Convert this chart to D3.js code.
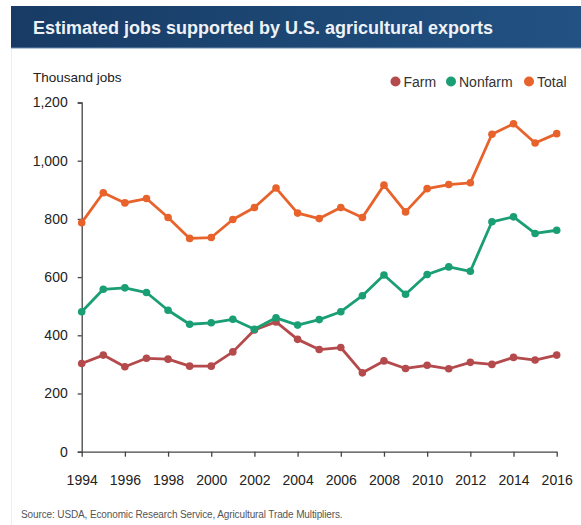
<!DOCTYPE html>
<html>
<head>
<meta charset="utf-8">
<script src="https://cdn.jsdelivr.net/npm/d3@7"></script>
<style>
  body { margin: 0; background: #fff; }
  svg { display: block; font-family: "Liberation Sans", Arial, sans-serif; }
</style>
</head>
<body>
<div class="chart"></div>
<script>
// years on the x axis
const years = d3.range(1994, 2017);
// thousand jobs
const farm = [303, 332, 292, 321, 318, 294, 294, 343, 418, 446, 386, 351, 358, 271, 312, 286, 297, 285, 307, 300, 324, 315, 332];
const nonfarm = [481, 558, 563, 547, 486, 438, 443, 455, 421, 460, 435, 454, 481, 536, 607, 541, 609, 635, 620, 790, 807, 750, 761];
const total = [787, 890, 855, 870, 805, 733, 736, 798, 839, 906, 820, 801, 839, 805, 916, 824, 904, 918, 924, 1091, 1127, 1061, 1093];
const seriesNames = ['Farm', 'Nonfarm', 'Total'];
const seriesColors = ['#b44a4c', '#1a9e74', '#e8632b'];
const yTicks = [0, 200, 400, 600, 800, 1000, 1200];
const xTicks = d3.range(1994, 2017, 2);

const width = 581;
const height = 525;
const svg = d3.select('.chart')
  .append('svg')
  .attr('width', width)
  .attr('height', height);

// faint frame on the left
svg.append('line')
  .attr('x1', 11.5).attr('x2', 11.5)
  .attr('y1', 6).attr('y2', height)
  .attr('stroke', '#eeeeee');

// title band
const grad = svg.append('defs').append('linearGradient')
  .attr('id', 'band').attr('x1', '0%').attr('x2', '100%');
grad.append('stop').attr('offset', '0%').attr('stop-color', '#173b64');
grad.append('stop').attr('offset', '100%').attr('stop-color', '#225283');
svg.append('rect')
  .attr('x', 11).attr('y', 6)
  .attr('width', width - 11).attr('height', 42)
  .attr('fill', 'url(#band)');
svg.append('line')
  .attr('x1', 11).attr('x2', width)
  .attr('y1', 48).attr('y2', 48)
  .attr('stroke', '#6f8fb2').attr('stroke-width', 1);
svg.append('text')
  .text('Estimated jobs supported by U.S. agricultural exports')
  .attr('x', 33).attr('y', 34)
  .attr('font-size', 18)
  .attr('font-weight', 'bold')
  .attr('fill', '#eef2f7');

const x = d3.scaleLinear().domain([1994, 2016]).range([81.7, 556.7]);
const y = d3.scaleLinear().domain([0, 1200]).range([451.7, 102.5]);

// y axis
const yAxis = svg.append('g')
  .attr('transform', 'translate(81.7,0)')
  .call(d3.axisLeft(y).tickValues(yTicks).tickSize(4).tickPadding(10).tickFormat(d3.format(',')));
yAxis.select('.domain').attr('stroke', '#444').attr('stroke-width', 1.3);
yAxis.selectAll('.tick line').attr('stroke', '#444').attr('stroke-width', 1.3);
yAxis.selectAll('.tick text')
  .attr('font-size', 14).attr('fill', '#222')
  .attr('font-family', '"Liberation Sans", Arial, sans-serif')
  .attr('x', -14);

// x axis
const xAxis = svg.append('g')
  .attr('transform', 'translate(0,451.7)')
  .call(d3.axisBottom(x).tickValues(xTicks).tickSize(5).tickSizeOuter(0).tickFormat(d3.format('d')));
xAxis.select('.domain').attr('stroke', '#444').attr('stroke-width', 1.3);
xAxis.selectAll('.tick line').attr('stroke', '#444').attr('stroke-width', 1.3);
xAxis.selectAll('.tick text')
  .attr('font-size', 14).attr('fill', '#222')
  .attr('font-family', '"Liberation Sans", Arial, sans-serif')
  .attr('dy', 0).attr('y', 33.5);

svg.append('text')
  .text('Thousand jobs')
  .attr('x', 33).attr('y', 82)
  .attr('font-size', 13.5)
  .attr('fill', '#222');

const series = [farm, nonfarm, total];
const line = d3.line()
  .x((d, i) => x(years[i]))
  .y(d => y(d));

series.forEach((s, k) => {
  svg.append('path')
    .datum(s)
    .attr('d', line)
    .attr('fill', 'none')
    .attr('stroke', seriesColors[k])
    .attr('stroke-width', 2.8)
    .attr('stroke-linejoin', 'round');
  svg.selectAll('circle.s' + k)
    .data(s)
    .enter()
    .append('circle')
    .attr('class', 's' + k)
    .attr('cx', (d, i) => x(years[i]))
    .attr('cy', d => y(d))
    .attr('r', 3.8)
    .attr('fill', seriesColors[k]);
});

// legend
const legendX = [395.5, 451, 529];
seriesNames.forEach((name, k) => {
  svg.append('circle')
    .attr('cx', legendX[k]).attr('cy', 81.5)
    .attr('r', 5)
    .attr('fill', seriesColors[k]);
  svg.append('text')
    .text(name)
    .attr('x', legendX[k] + 8).attr('y', 86.5)
    .attr('font-size', 14)
    .attr('fill', '#333');
});

svg.append('text')
  .text('Source: USDA, Economic Research Service, Agricultural Trade Multipliers.')
  .attr('x', 21).attr('y', 518)
  .attr('font-size', 10)
  .attr('letter-spacing', -0.12)
  .attr('fill', '#555');
</script>
</body>
</html>
